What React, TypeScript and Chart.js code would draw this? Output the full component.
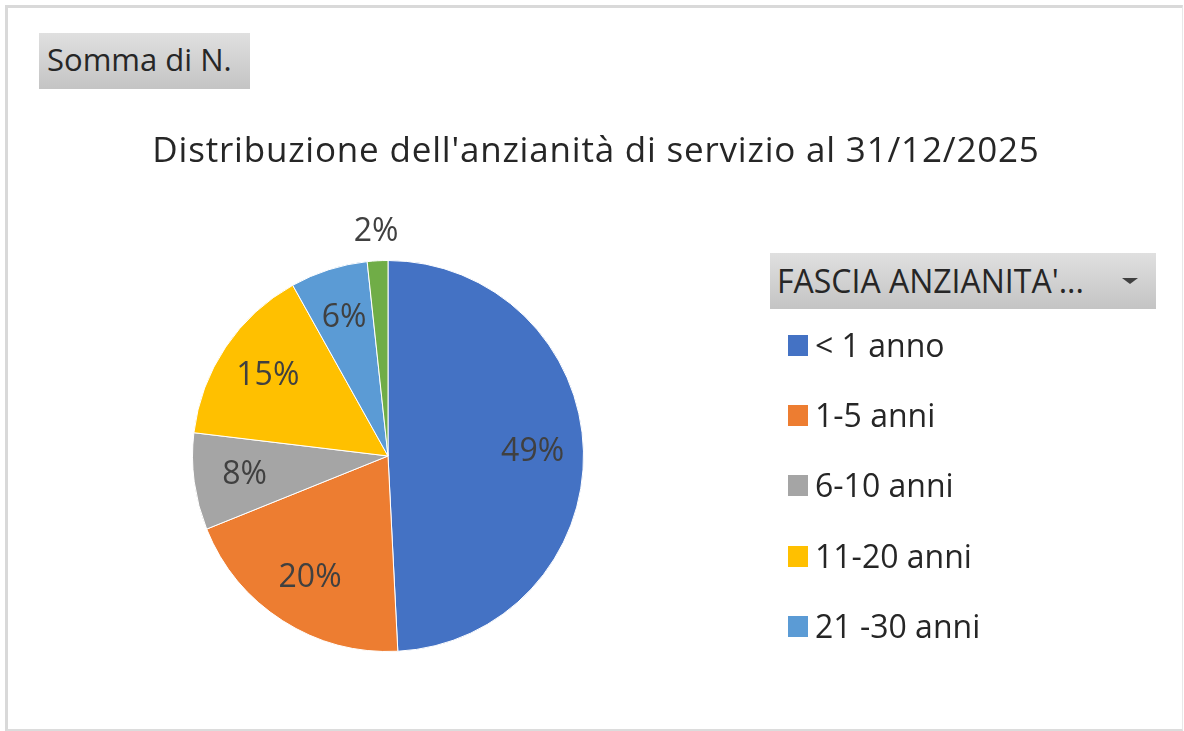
import React, { useEffect, useRef } from "react";
import { Chart, registerables } from "chart.js";

Chart.register(...registerables);

const categories = ["< 1 anno", "1-5 anni", "6-10 anni", "11-20 anni", "21 -30 anni", "> 30 anni"];
const shares = [49.2, 19.7, 8.0, 15.0, 6.4, 1.7];
const sliceColors = ["#4472C4", "#ED7D31", "#A5A5A5", "#FFC000", "#5B9BD5", "#70AD47"];
const chartTitle = "Distribuzione dell'anzianità di servizio al 31/12/2025";
const fieldButton = "Somma di N.";
const legendHeader = "FASCIA ANZIANITA'...";

const FONT = "'Open Sans', 'Noto Sans', sans-serif";

const sliceLabelPlugin = {
  id: "sliceLabels",
  afterDatasetsDraw(chart: any) {
    const ctx = chart.ctx;
    const meta = chart.getDatasetMeta(0);
    const data: number[] = chart.data.datasets[0].data;
    const total = data.reduce((a, b) => a + b, 0);
    ctx.save();
    ctx.font = `32px ${FONT}`;
    ctx.fillStyle = "#404040";
    ctx.textAlign = "center";
    ctx.textBaseline = "middle";
    meta.data.forEach((arc: any, i: number) => {
      const { x, y, startAngle, endAngle, outerRadius } = arc.getProps(
        ["x", "y", "startAngle", "endAngle", "outerRadius"],
        true
      );
      const mid = (startAngle + endAngle) / 2;
      const pct = (data[i] / total) * 100;
      const r = pct < 3 ? outerRadius + 29 : outerRadius * 0.74;
      ctx.fillText(Math.round(pct) + "%", x + Math.cos(mid) * r, y + Math.sin(mid) * r);
    });
    ctx.restore();
  },
};

export default function App() {
  const canvasRef = useRef<HTMLCanvasElement | null>(null);

  useEffect(() => {
    if (!canvasRef.current) return;
    const chart = new Chart(canvasRef.current, {
      type: "pie",
      data: {
        labels: categories,
        datasets: [
          {
            data: shares,
            backgroundColor: sliceColors,
            borderColor: "#ffffff",
            borderWidth: 1,
          },
        ],
      },
      options: {
        responsive: false,
        animation: false,
        devicePixelRatio: 1,
        layout: { padding: { left: 192, top: 260, right: 600, bottom: 79 } },
        plugins: {
          legend: { display: false },
          title: { display: false },
          tooltip: { enabled: false },
        },
      },
      plugins: [sliceLabelPlugin],
    });
    return () => chart.destroy();
  }, []);

  const textColor = "#262626";

  return (
    <div
      style={{
        position: "fixed",
        left: 0,
        top: 0,
        width: 1184,
        height: 731,
        background: "#ffffff",
        overflow: "hidden",
        fontFamily: FONT,
      }}
    >
      <div
        style={{
          position: "absolute",
          left: 5,
          top: 5,
          width: 1178 - 4,
          height: 726 - 5,
          borderLeft: "3px solid #d9d9d9",
          borderTop: "3px solid #d9d9d9",
          borderRight: "1px solid #e8e8e8",
          borderBottom: "2px solid #dcdcdc",
        }}
      />
      <canvas
        ref={canvasRef}
        width={1184}
        height={731}
        style={{ position: "absolute", left: 0, top: 0, width: 1184, height: 731 }}
      />
      {/* field button */}
      <div
        style={{
          position: "absolute",
          left: 39,
          top: 33,
          width: 211,
          height: 56,
          background: "linear-gradient(#e0e0e0, #c4c4c4)",
        }}
      />
      <div
        style={{
          position: "absolute",
          left: 47,
          top: 44,
          fontSize: 31,
          lineHeight: "31px",
          color: textColor,
          whiteSpace: "nowrap",
        }}
      >
        {fieldButton}
      </div>
      {/* title */}
      <div
        style={{
          position: "absolute",
          left: 0,
          top: 131,
          width: 1192,
          textAlign: "center",
          fontSize: 35,
          lineHeight: "35px",
          letterSpacing: "0.8px",
          color: textColor,
          whiteSpace: "nowrap",
        }}
      >
        {chartTitle}
      </div>
      {/* legend header */}
      <div
        style={{
          position: "absolute",
          left: 770,
          top: 253,
          width: 386,
          height: 56,
          background: "linear-gradient(#e0e0e0, #c4c4c4)",
        }}
      />
      <div
        style={{
          position: "absolute",
          left: 777,
          top: 265,
          fontSize: 32,
          lineHeight: "32px",
          color: textColor,
          whiteSpace: "nowrap",
        }}
      >
        {legendHeader}
      </div>
      <div
        style={{
          position: "absolute",
          left: 1122,
          top: 278,
          width: 0,
          height: 0,
          borderLeft: "8px solid transparent",
          borderRight: "8px solid transparent",
          borderTop: "6px solid #404040",
        }}
      />
      {/* legend items (clipped like the original) */}
      <div
        style={{
          position: "absolute",
          left: 780,
          top: 320,
          width: 380,
          height: 345,
          overflow: "hidden",
        }}
      >
        {categories.map((c, i) => (
          <div
            key={c}
            style={{
              position: "absolute",
              left: 0,
              top: i * 70.2,
              height: 52,
              width: 380,
            }}
          >
            <div
              style={{
                position: "absolute",
                left: 8,
                top: 15,
                width: 20,
                height: 21,
                background: sliceColors[i],
              }}
            />
            <div
              style={{
                position: "absolute",
                left: 35,
                top: 9,
                fontSize: 32,
                lineHeight: "32px",
                color: textColor,
                whiteSpace: "nowrap",
              }}
            >
              {c}
            </div>
          </div>
        ))}
      </div>
    </div>
  );
}
